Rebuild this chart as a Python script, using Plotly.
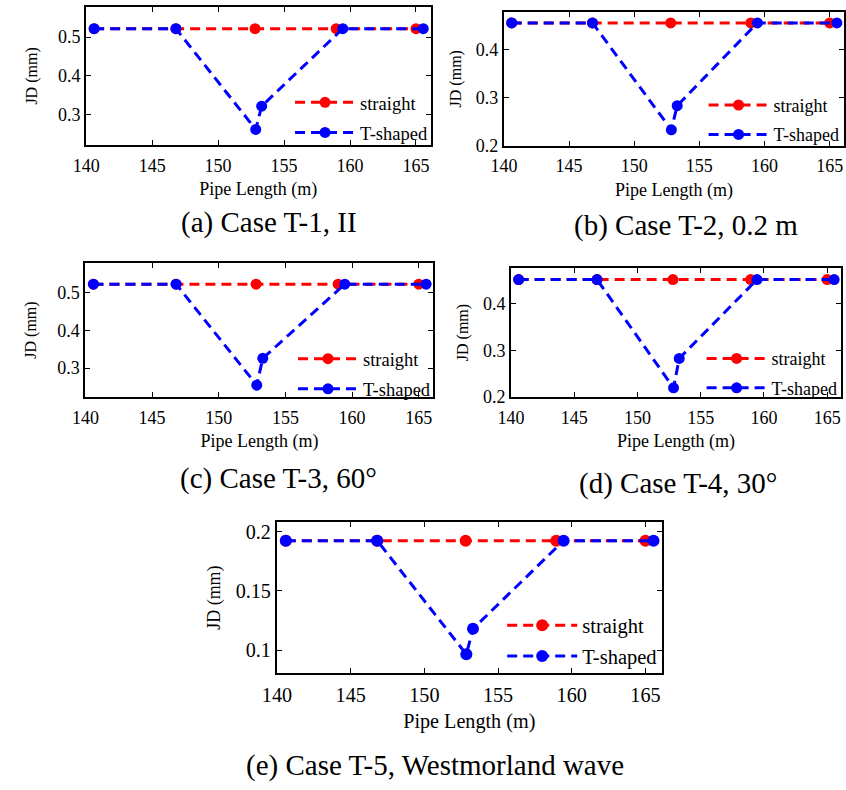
import plotly.graph_objects as go

# ---------------- data ----------------
x_straight = [140.6, 146.8, 152.8, 158.95, 165.0]
x_tshaped = [140.6, 146.8, 152.85, 153.3, 159.45, 165.55]

straight_a = [0.522, 0.522, 0.522, 0.522, 0.522]
tshaped_a = [0.522, 0.522, 0.262, 0.322, 0.522, 0.522]
straight_b = [0.455, 0.455, 0.455, 0.455, 0.455]
tshaped_b = [0.455, 0.455, 0.233, 0.283, 0.455, 0.455]
straight_c = [0.522, 0.522, 0.522, 0.522, 0.522]
tshaped_c = [0.522, 0.522, 0.255, 0.326, 0.522, 0.522]
straight_d = [0.452, 0.452, 0.452, 0.452, 0.452]
tshaped_d = [0.452, 0.452, 0.220, 0.283, 0.452, 0.452]
straight_e = [0.1925, 0.1925, 0.1925, 0.1925, 0.1925]
tshaped_e = [0.1925, 0.1925, 0.0965, 0.118, 0.1925, 0.1925]

x_ticks = [140, 145, 150, 155, 160, 165]
y_ticks_abcd = [0.2, 0.3, 0.4, 0.5]
y_ticks_e = [0.1, 0.15, 0.2]
y_ticktext_e = ["0.1", "0.15", "0.2"]

captions = ["(a) Case T-1, II", "(b) Case T-2, 0.2 m", "(c) Case T-3, 60°",
            "(d) Case T-4, 30°", "(e) Case T-5, Westmorland wave"]
series_names = ["straight", "T-shaped"]

# ---------------- layout geometry (pixels) ----------------
W, H = 846, 790
FONT = "Liberation Serif"

panels = [
    dict(px=(72.5, 423), py=(6, 146), yr=[0.222, 0.578], s=straight_a, t=tshaped_a,
         yt=y_ticks_abcd, ytt=None, leg=(280, 84), lf=18.5, iw=60, cap=(167, 225), ysd=17, sc=1.0),
    dict(px=(497.7, 844), py=(11, 146.7), yr=[0.2, 0.478], s=straight_b, t=tshaped_b,
         yt=y_ticks_abcd, ytt=None, leg=(701, 87), lf=18, iw=60, cap=(567, 228), ysd=10, sc=1.0),
    dict(px=(71.7, 426), py=(265.7, 401.7), yr=[0.2235, 0.578], s=straight_c, t=tshaped_c,
         yt=y_ticks_abcd, ytt=None, leg=(283, 344), lf=18.5, iw=60, cap=(166, 484), ysd=17, sc=1.0),
    dict(px=(505, 841), py=(270.7, 401.7), yr=[0.2, 0.477], s=straight_d, t=tshaped_d,
         yt=y_ticks_abcd, ytt=None, leg=(699, 344), lf=18, iw=60, cap=(572, 489), ysd=10, sc=1.0),
    dict(px=(266.7, 658.3), py=(528.3, 681.7), yr=[0.0805, 0.2083], s=straight_e, t=tshaped_e,
         yt=y_ticks_e, ytt=y_ticktext_e, leg=(496, 613), lf=20.5, iw=70, cap=(233, 775), ysd=10, sc=1.12),
]

fig = go.Figure()
layout = dict(
    width=W, height=H,
    margin=dict(l=0, r=0, t=0, b=0),
    paper_bgcolor="white", plot_bgcolor="white",
    font=dict(family=FONT, size=17, color="black"),
    showlegend=True,
    annotations=[],
)

red = "#FF0000"
blue = "#0000FF"
dash = "10px,6px"

for i, p in enumerate(panels):
    k = "" if i == 0 else str(i + 1)
    xa, ya = "x" + k, "y" + k
    leg = "legend" + k
    sc = p["sc"]
    fig.add_trace(go.Scatter(
        x=x_straight, y=p["s"], name=series_names[0], xaxis=xa, yaxis=ya,
        mode="lines+markers", line=dict(color=red, width=3, dash=dash),
        marker=dict(color=red, size=round(11 * sc)), legend=leg, legendgroup="s" + k,
        cliponaxis=False))
    fig.add_trace(go.Scatter(
        x=x_tshaped, y=p["t"], name=series_names[1], xaxis=xa, yaxis=ya,
        mode="lines+markers", line=dict(color=blue, width=3, dash=dash),
        marker=dict(color=blue, size=round(11 * sc)), legend=leg, legendgroup="t" + k,
        cliponaxis=False))

    x0, x1 = p["px"]
    yt0, yb = p["py"]
    axis_common = dict(
        showline=True, linecolor="black", linewidth=2, mirror="allticks",
        ticks="inside", ticklen=5, tickwidth=1.3, tickcolor="black",
        showgrid=False, zeroline=False,
        tickfont=dict(family=FONT, size=18 * sc, color="black"),
    )
    layout["xaxis" + k] = dict(
        axis_common, domain=[x0 / W, x1 / W], anchor=ya, range=[140, 166.1],
        tickvals=x_ticks, ticklabelstandoff=3,
        title=dict(text="Pipe Length (m)", font=dict(family=FONT, size=18 * sc), standoff=8),
    )
    yaxis = dict(
        axis_common, domain=[1 - yb / H, 1 - yt0 / H], anchor=xa, range=p["yr"],
        tickvals=p["yt"],
        title=dict(text="JD (mm)", font=dict(family=FONT, size=16 * sc), standoff=p["ysd"]),
    )
    if p["ytt"] is not None:
        yaxis["ticktext"] = p["ytt"]
    layout["yaxis" + k] = yaxis

    lx, ly = p["leg"]
    layout[leg] = dict(
        x=lx / W, y=1 - ly / H, xanchor="left", yanchor="top",
        bgcolor="rgba(0,0,0,0)", borderwidth=0,
        font=dict(family=FONT, size=p["lf"], color="black"),
        tracegroupgap=3 if sc == 1.0 else 1, itemwidth=p["iw"],
    )

    cx, cy = p["cap"]
    layout["annotations"].append(dict(
        text=captions[i], xref="paper", yref="paper", x=cx / W, y=1 - cy / H,
        xanchor="left", yanchor="middle", showarrow=False,
        font=dict(family=FONT, size=29, color="black"),
    ))

fig.update_layout(**layout)
fig.write_html(
    "out.html",
    config={"displayModeBar": False},
    post_script="document.body.style.margin='0px';document.body.style.overflow='hidden';",
)
